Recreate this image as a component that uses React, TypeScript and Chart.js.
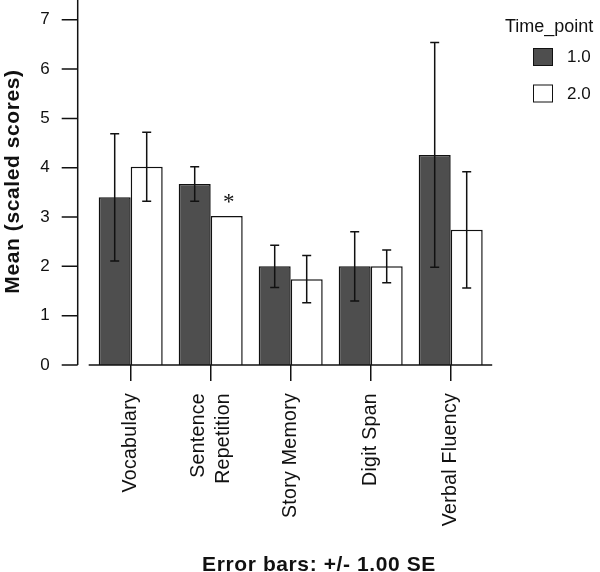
import React, { useEffect, useRef } from "react";
import { Chart, registerables } from "chart.js";

Chart.register(...registerables);

const categories: (string | string[])[] = [
  "Vocabulary",
  ["Sentence", "Repetition"],
  "Story Memory",
  "Digit Span",
  "Verbal Fluency",
];
const seriesNames = ["1.0", "2.0"];
const t1Means = [3.4, 3.67, 2.0, 2.0, 4.26];
const t2Means = [4.02, 3.02, 1.74, 2.0, 2.74];
const t1SE = [1.29, 0.35, 0.43, 0.7, 2.28];
const t2SE = [0.7, 0, 0.48, 0.33, 1.18];
const yTicks = [0, 1, 2, 3, 4, 5, 6, 7];
const significant = [false, true, false, false, false]; // on time point 2 bar
const legendTitle = "Time_point";
const yTitle = "Mean (scaled scores)";
const footer = "Error bars: +/- 1.00 SE";

const FONT = "'Liberation Sans', Arial, Helvetica, sans-serif";
const DARK = "#4e4e4e";
const INK = "#111111";

const overlay = {
  id: "overlay",
  afterDatasetsDraw(chart: any) {
    const ctx = chart.ctx as CanvasRenderingContext2D;
    const y = chart.scales.y;
    const ses = [t1SE, t2SE];
    const means = [t1Means, t2Means];
    ctx.save();
    ctx.strokeStyle = INK;
    ctx.lineWidth = 1.5;
    for (let d = 0; d < 2; d++) {
      const meta = chart.getDatasetMeta(d);
      meta.data.forEach((bar: any, i: number) => {
        if (ses[d][i] <= 0) return;
        const hi = y.getPixelForValue(means[d][i] + ses[d][i]);
        const lo = y.getPixelForValue(means[d][i] - ses[d][i]);
        ctx.beginPath();
        ctx.moveTo(bar.x, hi);
        ctx.lineTo(bar.x, lo);
        ctx.moveTo(bar.x - 4.5, hi);
        ctx.lineTo(bar.x + 4.5, hi);
        ctx.moveTo(bar.x - 4.5, lo);
        ctx.lineTo(bar.x + 4.5, lo);
        ctx.stroke();
      });
    }
    const meta2 = chart.getDatasetMeta(1);
    ctx.fillStyle = INK;
    ctx.font = "23px 'Liberation Serif', 'Times New Roman', serif";
    ctx.textAlign = "center";
    ctx.textBaseline = "middle";
    significant.forEach((s, i) => {
      if (!s) return;
      const bar = meta2.data[i] as any;
      const top = y.getPixelForValue(t2Means[i] + t2SE[i]);
      ctx.fillText("*", bar.x + 2, top - 13);
    });
    ctx.restore();
  },
  afterDraw(chart: any) {
    const ctx = chart.ctx as CanvasRenderingContext2D;
    const y = chart.scales.y;
    const x = chart.scales.x;
    const area = chart.chartArea;
    ctx.save();
    const axX = area.left - 13;
    ctx.strokeStyle = INK;
    ctx.lineWidth = 1.5;
    ctx.beginPath();
    ctx.moveTo(axX, area.top);
    ctx.lineTo(axX, y.getPixelForValue(0));
    yTicks.forEach((t) => {
      const py = y.getPixelForValue(t);
      ctx.moveTo(axX - 16, py);
      ctx.lineTo(axX, py);
    });
    ctx.stroke();
    ctx.beginPath();
    ctx.moveTo(area.left - 2, area.bottom);
    ctx.lineTo(area.right + 1.5, area.bottom);
    ctx.stroke();
    ctx.fillStyle = INK;
    // y axis title
    (ctx as any).letterSpacing = "0.6px";
    ctx.font = `bold 21px ${FONT}`;
    ctx.textAlign = "center";
    ctx.textBaseline = "middle";
    ctx.save();
    ctx.translate(13, (area.top + area.bottom) / 2 - 1);
    ctx.rotate(-Math.PI / 2);
    ctx.fillText(yTitle, 0, 0);
    ctx.restore();
    // footer
    ctx.textBaseline = "alphabetic";
    ctx.fillText(footer, 319, 570.5);
    // category labels
    (ctx as any).letterSpacing = "0.3px";
    ctx.font = `19.5px ${FONT}`;
    ctx.textAlign = "right";
    ctx.textBaseline = "middle";
    categories.forEach((c, i) => {
      const lines = Array.isArray(c) ? c : [c];
      const px = x.getPixelForValue(i);
      ctx.save();
      ctx.translate(px, area.bottom + 28);
      ctx.rotate(-Math.PI / 2);
      lines.forEach((ln, j) => {
        ctx.fillText(ln, 0, (j - (lines.length - 1) / 2) * 25);
      });
      ctx.restore();
    });
    (ctx as any).letterSpacing = "0px";
    // legend
    ctx.font = `18px ${FONT}`;
    ctx.textAlign = "left";
    ctx.textBaseline = "alphabetic";
    ctx.fillText(legendTitle, 505, 31.5);
    ctx.font = `17px ${FONT}`;
    ctx.textBaseline = "middle";
    const fills = [DARK, "#ffffff"];
    const boxY = [48.5, 85];
    seriesNames.forEach((n, i) => {
      ctx.fillStyle = fills[i];
      ctx.fillRect(533.5, boxY[i], 19, 17);
      ctx.lineWidth = 1;
      ctx.strokeStyle = INK;
      ctx.strokeRect(533.5, boxY[i], 19, 17);
      ctx.fillStyle = INK;
      ctx.fillText(n, 567, boxY[i] + 9);
    });
    ctx.restore();
  },
};

export default function App() {
  const ref = useRef<HTMLCanvasElement>(null);
  useEffect(() => {
    document.body.style.margin = "0";
    const chart = new Chart(ref.current as HTMLCanvasElement, {
      type: "bar",
      data: {
        labels: categories.map((c) => (Array.isArray(c) ? c.join(" ") : c)),
        datasets: [
          {
            label: seriesNames[0],
            data: t1Means,
            backgroundColor: DARK,
            borderColor: INK,
            borderWidth: 1.5,
            categoryPercentage: 0.8,
            barPercentage: 1.0,
          },
          {
            label: seriesNames[1],
            data: t2Means,
            backgroundColor: "#ffffff",
            borderColor: INK,
            borderWidth: 1.5,
            categoryPercentage: 0.8,
            barPercentage: 1.0,
          },
        ],
      },
      options: {
        responsive: false,
        animation: false,
        layout: { padding: { left: 0, right: 109.3, top: 0, bottom: 0 } },
        plugins: {
          legend: { display: false },
          tooltip: { enabled: false },
        },
        scales: {
          x: {
            grid: {
              display: true,
              drawOnChartArea: false,
              offset: false,
              drawTicks: true,
              tickLength: 16,
              color: INK,
              lineWidth: 1.5,
            },
            border: { display: false },
            ticks: { display: false },
            afterFit: (s: any) => {
              s.height = 572 - 365;
              s.paddingLeft = 0;
              s.paddingRight = 0;
            },
          },
          y: {
            min: 0,
            max: 7.4,
            grid: { display: false, drawTicks: false },
            border: { display: false },
            ticks: {
              stepSize: 1,
              padding: 41,
              color: INK,
              font: { family: FONT, size: 17 },
            },
            afterBuildTicks: (s: any) => {
              s.ticks = yTicks.map((v) => ({ value: v }));
            },
            title: { display: false },
            afterFit: (s: any) => {
              s.width = 90.7;
              s.paddingTop = 0;
              s.paddingBottom = 0;
            },
          },
        },
      },
      plugins: [overlay],
    });
    return () => chart.destroy();
  }, []);
  return (
    <div style={{ position: "absolute", left: 0, top: 0, width: 600, height: 572 }}>
      <canvas ref={ref} width={600} height={572} />
    </div>
  );
}
